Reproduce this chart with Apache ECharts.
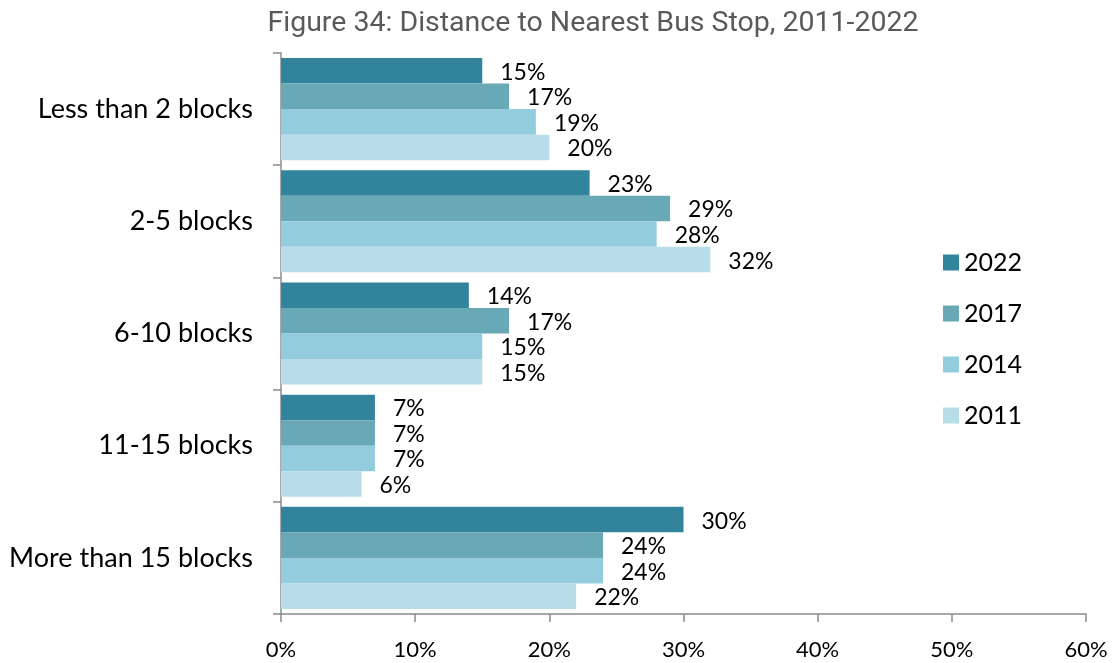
<!DOCTYPE html>
<html><head><meta charset="utf-8">
<script src="https://cdn.jsdelivr.net/npm/echarts@6/dist/echarts.min.js"></script>
<style>html,body{margin:0;padding:0;background:#fff}#c{width:1114px;height:663px}</style>
</head><body><div id="c"></div>
<script>
const categories = ["Less than 2 blocks", "2-5 blocks", "6-10 blocks", "11-15 blocks", "More than 15 blocks"];
const years = ["2022", "2017", "2014", "2011"];
const v2022 = [15, 23, 14, 7, 30];
const v2017 = [17, 29, 17, 7, 24];
const v2014 = [19, 28, 15, 7, 24];
const v2011 = [20, 32, 15, 6, 22];
const xTicks = [0, 10, 20, 30, 40, 50, 60];
const colors = ["#31849B", "#69A8B5", "#93CDDD", "#B7DEE8"];
const seriesData = [v2022, v2017, v2014, v2011];
const FONT = "Lato, 'Open Sans', sans-serif";

const chart = echarts.init(document.getElementById('c'), null, {renderer: 'canvas'});
chart.setOption({
  animation: false,
  title: {
    text: "Figure 34: Distance to Nearest Bus Stop, 2011-2022",
    left: 588, top: 4, textAlign: 'center',
    textStyle: {fontFamily: "Roboto, sans-serif", fontWeight: 'normal', fontSize: 28.5, color: '#595959'}
  },
  legend: {
    orient: 'vertical', left: 938, top: 245,
    itemWidth: 16, itemHeight: 16, itemGap: 26,
    icon: 'rect',
    data: years,
    textStyle: {fontFamily: FONT, fontSize: 25, color: '#000', lineHeight: 24}
  },
  grid: {left: 281, right: 28, top: 53, bottom: 49, containLabel: false},
  xAxis: {
    type: 'value', min: 0, max: 60, interval: 10,
    axisLine: {show: true, lineStyle: {color: '#8c8c8c', width: 1.5}},
    axisTick: {show: true, length: 8, lineStyle: {color: '#8c8c8c', width: 1.5}},
    splitLine: {show: false},
    axisLabel: {margin: 25, fontFamily: FONT, fontSize: 22, color: '#000',
      formatter: v => xTicks.includes(v) ? v + '%' : ''}
  },
  yAxis: {
    type: 'category', data: categories, inverse: true,
    axisLine: {show: true, lineStyle: {color: '#8c8c8c', width: 1.5}},
    axisTick: {show: true, length: 8, lineStyle: {color: '#8c8c8c', width: 1.5}},
    axisLabel: {margin: 28, fontFamily: FONT, fontSize: 27, color: '#000'}
  },
  series: years.map((y, i) => ({
    name: y, type: 'bar', data: seriesData[i],
    barGap: '0%', barCategoryGap: '9%',
    itemStyle: {color: colors[i]},
    label: {show: true, position: 'right', distance: 18, offset: [0, 1.5], formatter: '{c}%',
      fontFamily: FONT, fontSize: 23, color: '#000'}
  }))
});
</script></body></html>
